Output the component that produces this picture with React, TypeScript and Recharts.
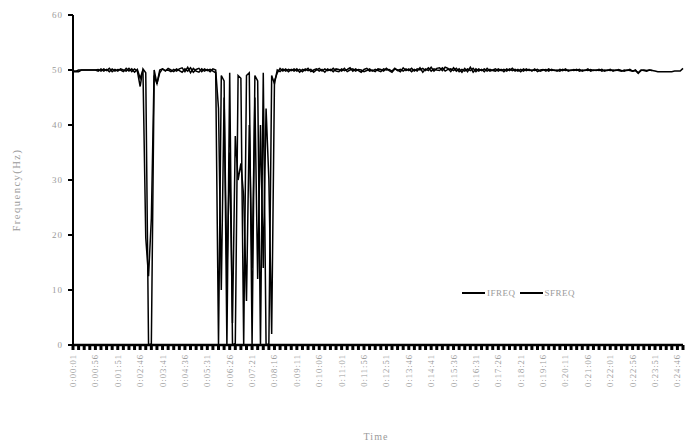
import { LineChart, Line, XAxis, YAxis, Legend } from 'recharts';

// one value every sample (Hz)
const ifreq = [
  49.7, 49.7, 49.7, 50, 50, 50, 50, 50, 50, 49.8, 50.2, 49.8, 50.1, 49.7, 50.2, 49.8, 50.1, 50, 49.7, 50.3,
  49.8, 50.2, 49.6, 50.1, 48.5, 50, 19.5, 12.5, 23, 50, 47.5, 49.5, 50.2, 49.9, 50, 49.7, 50.1, 49.8, 50.2, 50.4,
  49.7, 50.5, 49.5, 50.3, 49.8, 49.6, 50.2, 49.8, 50.1, 49.7, 50.2, 50, 43, 10, 45, 12.7, 35, 4, 38, 30,
  33, 27, 8, 40, 14, 45, 12, 40, 14, 43, 30, 2, 48, 49.5, 50.3, 49.8, 50.2, 49.7, 50.1, 49.8,
  50.2, 49.6, 50.1, 49.9, 50.3, 49.7, 50, 50.2, 49.8, 50.1, 49.6, 50.2, 49.9, 50.3, 49.8, 49.7, 50.2, 49.9, 50.1, 50.4,
  49.8, 50.2, 49.9, 49.6, 50.1, 50.3, 49.8, 50, 49.7, 50.2, 50.1, 49.8, 50.3, 49.9, 49.6, 50.2, 50, 49.7, 50.4, 49.9,
  50.2, 49.7, 50.1, 49.8, 50.4, 49.6, 50.2, 49.9, 50.5, 49.8, 50.3, 50.4, 49.9, 50.5, 50.3, 49.7, 50.4, 49.8, 50.2, 49.6,
  50.3, 49.7, 50.5, 49.6, 50.2, 49.8, 50.1, 49.7, 50.3, 49.8, 50, 50.2, 49.8, 50.1, 49.7, 50.2, 49.9, 50.3, 49.8, 50.1,
  49.7, 50.2, 49.9, 50.1, 49.8, 50.2, 49.7, 50, 50.1, 49.8, 50.2, 49.9, 50, 49.8, 50.1, 49.9, 50.2, 49.8, 50, 49.9,
  50.1, 49.8, 50, 49.9, 50.2, 49.8, 50, 49.9, 50.1, 49.8, 50, 49.9, 50.1, 49.8, 50, 49.9, 49.8, 50, 49.9, 50.1,
  49.8, 49.9, 49.5, 50, 49.9, 49.8, 50, 49.9, 49.8, 49.7, 49.7, 49.7, 49.7, 49.7, 49.7, 49.8, 49.8, 49.8, 50.3,
];

const sfreq = [
  49.8, 49.8, 50, 50, 50, 50, 50, 50, 50, 50.1, 49.8, 50.2, 49.9, 50.3, 49.7, 50.1, 49.8, 50.2, 50, 49.8,
  50.3, 49.7, 50.2, 49.8, 47, 50.2, 49.5, 0, 0.2, 49, 47.5, 50, 50.2, 49.8, 50.3, 50, 49.7, 50.2, 49.9, 49.6,
  50.2, 49.8, 50.4, 49.6, 50.1, 50.3, 49.7, 50.2, 49.9, 50.1, 49.8, 49.5, 0, 49, 48, 0, 49.5, 0, 0.3, 49,
  48.5, 0, 49, 49.5, 0, 49, 48, 0, 49.5, 0, 0.2, 49, 47.5, 50, 49.7, 50.2, 49.8, 50.1, 49.9, 50.2,
  49.8, 50.1, 49.7, 50.2, 49.9, 50.1, 49.6, 50, 50.3, 49.8, 50.2, 49.9, 50.1, 49.7, 50.2, 50.1, 49.8, 50.3, 49.7, 50,
  50.2, 49.8, 50.1, 50, 49.7, 49.9, 50.2, 49.8, 50.1, 49.9, 49.7, 50.2, 50, 50.1, 49.8, 50.3, 49.9, 50.1, 49.8, 50.2,
  49.9, 50.3, 49.8, 50.2, 50, 50.3, 49.9, 50.4, 49.8, 50.2, 50, 49.9, 50.4, 49.8, 50.1, 50.2, 49.9, 50.3, 49.7, 50.1,
  49.8, 50.2, 49.9, 50.3, 49.7, 50.2, 49.9, 50.2, 49.8, 50.1, 49.9, 49.8, 50.2, 49.9, 50.1, 49.8, 50.2, 49.9, 50.1, 49.8,
  50.1, 49.8, 50.2, 49.9, 50, 49.9, 50.1, 49.8, 50, 50.1, 49.8, 50.1, 49.9, 50, 49.8, 50.1, 49.9, 50, 49.9, 50.1,
  49.9, 50.1, 49.8, 50, 49.9, 50.1, 49.9, 50, 49.9, 50.1, 49.8, 50, 49.9, 50, 49.9, 50.1, 49.9, 49.8, 50, 49.9,
  49.8, 50, 49.4, 49.9, 50, 49.9, 50, 49.9,
];

// one label every 8 samples
const tickLabels = [
  '0:00:01', '0:00:56', '0:01:51', '0:02:46', '0:03:41', '0:04:36', '0:05:31', '0:06:26',
  '0:07:21', '0:08:16', '0:09:11', '0:10:06', '0:11:01', '0:11:56', '0:12:51', '0:13:46',
  '0:14:41', '0:15:36', '0:16:31', '0:17:26', '0:18:21', '0:19:16', '0:20:11', '0:21:06',
  '0:22:01', '0:22:56', '0:23:51', '0:24:46',
];
const yTicks = [0, 10, 20, 30, 40, 50, 60];

const data = ifreq.map((v, i) => ({
  t: i,
  IFREQ: v,
  SFREQ: i < sfreq.length ? sfreq[i] : null,
}));

const GREY = '#9a9a9a';
const FONT = '"Liberation Serif", "Times New Roman", serif';

function TimeTick(props: any) {
  const { x, y, payload } = props;
  const i = payload.value as number;
  if (i % 8 !== 0) return <g />;
  return (
    <g transform={`translate(${x},${y})`}>
      <text x={0} y={0} dy={3} textAnchor="end" transform="rotate(-90)"
        fill={GREY} fontSize={8.5} letterSpacing={1} fontFamily={FONT}>
        {tickLabels[i / 8]}
      </text>
    </g>
  );
}

function LegendBox() {
  const item = (name: string) => (
    <span key={name} style={{ display: 'inline-flex', alignItems: 'center', marginRight: 4 }}>
      <svg width={23} height={4}><line x1={0} y1={2} x2={23} y2={2} stroke="#000" strokeWidth={2} /></svg>
      <span style={{ color: GREY, fontSize: 9, fontFamily: FONT, marginLeft: 2, letterSpacing: 0.5 }}>{name}</span>
    </span>
  );
  return <div style={{ display: 'flex', whiteSpace: 'nowrap' }}>{item('IFREQ')}{item('SFREQ')}</div>;
}

export default function App() {
  return (
    <div style={{ position: 'absolute', left: 0, top: 0 }}>
      <LineChart width={691} height={447} data={data} margin={{ top: 15, right: 8, left: 0, bottom: 0 }}>
        <XAxis dataKey="t" type="category" interval={1} height={92}
          axisLine={{ stroke: '#000', strokeWidth: 2.5 }}
          tickLine={{ stroke: '#000', strokeWidth: 3 }} tickSize={5} tickMargin={4}
          tick={(p: any) => <TimeTick {...p} />}
          label={{
            content: () => (
              <text x={376} y={440} textAnchor="middle" fill={GREY} fontSize={10} letterSpacing={1} fontFamily={FONT}>Time</text>
            ),
          }} />
        <YAxis type="number" domain={[0, 60]} ticks={yTicks} width={73}
          axisLine={{ stroke: '#000', strokeWidth: 2 }}
          tickLine={{ stroke: '#000', strokeWidth: 2 }} tickSize={5} tickMargin={5}
          tick={{ fill: GREY, fontSize: 9, fontFamily: FONT, letterSpacing: 1 }}
          label={{
            content: () => (
              <text x={20} y={190} textAnchor="middle" transform="rotate(-90 20 190)"
                fill={GREY} fontSize={10.5} letterSpacing={1.5} fontFamily={FONT}>Frequency(Hz)</text>
            ),
          }} />
        <Legend content={() => <LegendBox />}
          wrapperStyle={{ left: 462, top: 288, width: 'auto', height: 'auto' }} />
        <Line dataKey="IFREQ" name="IFREQ" stroke="#000" strokeWidth={1.5} dot={false}
          type="linear" isAnimationActive={false} legendType="plainline" />
        <Line dataKey="SFREQ" name="SFREQ" stroke="#000" strokeWidth={1.5} dot={false}
          type="linear" isAnimationActive={false} legendType="plainline" />
      </LineChart>
    </div>
  );
}
